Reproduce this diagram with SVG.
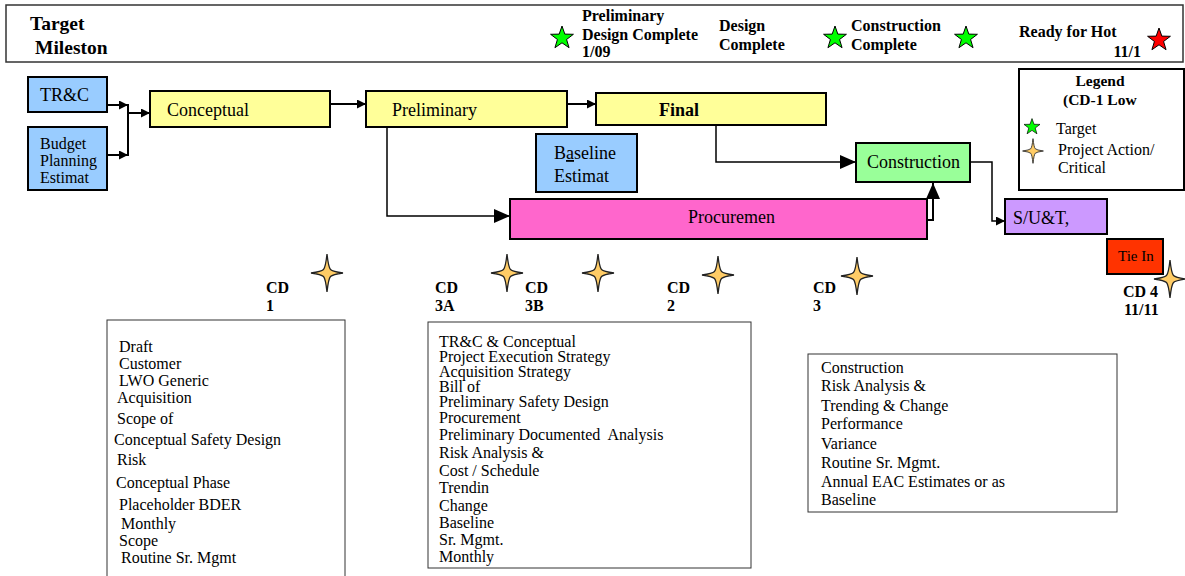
<svg xmlns="http://www.w3.org/2000/svg" width="1185" height="576" viewBox="0 0 1185 576">
<style>
text{font-family:"Liberation Serif","Times New Roman",serif;fill:#000}
.b{font-weight:bold}
.hd{font-size:16px;font-weight:bold}
.nd{stroke:#000;stroke-width:2}
.n18{font-size:18px}
.box{fill:#fff;stroke:#333;stroke-width:1}
.bt{font-size:16px}
.cd{font-size:16px;font-weight:bold}
.con{fill:none;stroke:#000;stroke-width:2}
.con1{fill:none;stroke:#000;stroke-width:1.5}
</style>
<defs>
<path id="star5" d="M0,-12 L2.82,-3.88 L11.41,-3.71 L4.57,1.48 L7.05,9.71 L0,4.8 L-7.05,9.71 L-4.57,1.48 L-11.41,-3.71 L-2.82,-3.88 Z" stroke="#000" stroke-width="1"/>
<path id="star4" d="M0,-19 Q1.5,-5.5 3.5,-3.5 Q5.5,-1.5 16,0 Q5.5,1.5 3.5,3.5 Q1.5,5.5 0,19 Q-1.5,5.5 -3.5,3.5 Q-5.5,1.5 -16,0 Q-5.5,-1.5 -3.5,-3.5 Q-1.5,-5.5 0,-19 Z" fill="#FFCC66" stroke="#222" stroke-width="1.3"/>
<marker id="as" markerUnits="userSpaceOnUse" markerWidth="9" markerHeight="9" refX="9" refY="4.5" orient="auto"><path d="M0,0 L9,4.5 L0,9 Z" fill="#000"/></marker>
<marker id="al" markerUnits="userSpaceOnUse" markerWidth="16" markerHeight="14" refX="16" refY="7" orient="auto"><path d="M0,0 L16,7 L0,14 Z" fill="#000"/></marker>
</defs>
<rect width="1185" height="576" fill="#fff"/>

<g id="header">
<rect x="6" y="5" width="1177" height="57" fill="#fff" stroke="#333" stroke-width="1.5"/>
<text x="30" y="30" font-size="19.5" class="b">Target</text>
<text x="35" y="54" font-size="19.5" class="b">Mileston</text>
<use href="#star5" x="562" y="38" fill="#00FF00"/>
<text x="582" y="21" class="hd">Preliminary</text>
<text x="582" y="40" class="hd">Design Complete</text>
<text x="582" y="57" class="hd">1/09</text>
<text x="719" y="31" class="hd">Design</text>
<text x="719" y="50" class="hd">Complete</text>
<use href="#star5" x="835" y="38" fill="#00FF00"/>
<text x="851" y="31" class="hd">Construction</text>
<text x="851" y="50" class="hd">Complete</text>
<use href="#star5" x="966" y="38" fill="#00FF00"/>
<text x="1019" y="37" class="hd">Ready for Hot</text>
<text x="1141" y="57" class="hd" text-anchor="end">11/1</text>
<use href="#star5" x="1159" y="40" fill="#FF0000"/>
</g>

<g id="connectors">
<path class="con" d="M107,105 H128" marker-end="url(#as)"/>
<path class="con" d="M107,155 H128" marker-end="url(#as)"/>
<path class="con" d="M128,104 V156"/>
<path class="con" d="M128,113 H150" marker-end="url(#as)"/>
<path class="con" d="M330,104 H366" marker-end="url(#as)"/>
<path class="con" d="M567,104 H596" marker-end="url(#as)"/>
<path class="con1" d="M387,127 V216 H510" marker-end="url(#al)"/>
<path class="con1" d="M716,125 V162 H856" marker-end="url(#al)"/>
<path class="con" d="M927,220 H933 V183" marker-end="url(#al)"/>
<path class="con1" d="M970,162 H992 V221 H1005" marker-end="url(#as)"/>
</g>

<g id="n-trc"><rect x="28" y="77" width="79" height="35" fill="#99CCFF" class="nd"/><text x="40" y="101" class="n18">TR&amp;C</text></g>
<g id="n-budget"><rect x="28" y="127" width="79" height="63" fill="#99CCFF" class="nd"/>
<text x="40" y="149" font-size="16">Budget</text><text x="40" y="166" font-size="16">Planning</text><text x="40" y="183" font-size="16">Estimat</text></g>
<g id="n-conceptual"><rect x="150" y="91" width="180" height="36" fill="#FFFF99" class="nd"/><text x="167" y="116" class="n18">Conceptual</text></g>
<g id="n-preliminary"><rect x="366" y="91" width="201" height="36" fill="#FFFF99" class="nd"/><text x="392" y="116" class="n18">Preliminary</text></g>
<g id="n-final"><rect x="596" y="93" width="230" height="32" fill="#FFFF99" class="nd"/><text x="659" y="116" class="n18 b">Final</text></g>
<g id="n-baseline"><rect x="536" y="134" width="101" height="58" fill="#99CCFF" class="nd"/>
<text x="554" y="159" class="n18">B<tspan text-decoration="underline">a</tspan>seline</text><text x="554" y="182" class="n18">Estimat</text></g>
<g id="n-procurement"><rect x="510" y="199" width="417" height="40" fill="#FF66CC" class="nd"/><text x="688" y="223" class="n18">Procuremen</text></g>
<g id="n-construction"><rect x="856" y="143" width="114" height="39" fill="#99FF99" class="nd"/><text x="867" y="168" class="n18">Construction</text></g>
<g id="n-sut"><rect x="1005" y="199" width="102" height="35" fill="#CC99FF" class="nd"/><text x="1013" y="224" class="n18">S/U&amp;T,</text></g>
<g id="n-tiein"><rect x="1107" y="239" width="56" height="35" fill="#FF3300" class="nd"/><text x="1118" y="261" font-size="15">Tie In</text></g>

<g id="legend">
<rect x="1019" y="69" width="165" height="121" fill="#fff" stroke="#000" stroke-width="2"/>
<text x="1100" y="86" font-size="15.5" class="b" text-anchor="middle">Legend</text>
<text x="1063" y="105" font-size="15.5" class="b">(CD-1 Low</text>
<use href="#star5" transform="translate(1032,127) scale(0.7)" fill="#00FF00"/>
<text x="1056" y="134" font-size="16">Target</text>
<use href="#star4" transform="translate(1033,151) scale(0.65)"/>
<text x="1058" y="155" font-size="16">Project Action/</text>
<text x="1058" y="173" font-size="16">Critical</text>
</g>

<g id="milestones">
<use href="#star4" x="327" y="273"/>
<text x="266" y="293" class="cd">CD</text><text x="266" y="311" class="cd">1</text>
<use href="#star4" x="507" y="273"/>
<text x="435" y="293" class="cd">CD</text><text x="435" y="311" class="cd">3A</text>
<use href="#star4" x="598" y="273"/>
<text x="525" y="293" class="cd">CD</text><text x="525" y="311" class="cd">3B</text>
<use href="#star4" x="718" y="275"/>
<text x="667" y="293" class="cd">CD</text><text x="667" y="311" class="cd">2</text>
<use href="#star4" x="857" y="276"/>
<text x="813" y="293" class="cd">CD</text><text x="813" y="311" class="cd">3</text>
<use href="#star4" x="1170" y="279"/>
<text x="1123" y="297" class="cd">CD 4</text><text x="1124" y="315" class="cd">11/11</text>
</g>

<g id="box-cd1">
<rect x="107" y="320" width="238" height="262" class="box"/>
<text class="bt" x="119" y="352">Draft</text>
<text class="bt" x="119" y="369">Customer</text>
<text class="bt" x="119" y="386">LWO Generic</text>
<text class="bt" x="117" y="403">Acquisition</text>
<text class="bt" x="117" y="424">Scope of</text>
<text class="bt" x="114" y="445">Conceptual Safety Design</text>
<text class="bt" x="117" y="465">Risk</text>
<text class="bt" x="116" y="488">Conceptual Phase</text>
<text class="bt" x="119" y="510">Placeholder BDER</text>
<text class="bt" x="121" y="529">Monthly</text>
<text class="bt" x="119" y="546">Scope</text>
<text class="bt" x="121" y="563">Routine Sr. Mgmt</text>
</g>

<g id="box-cd3">
<rect x="428" y="322" width="323" height="246" class="box"/>
<text class="bt" x="439" y="347">TR&amp;C &amp; Conceptual</text>
<text class="bt" x="439" y="362">Project Execution Strategy</text>
<text class="bt" x="439" y="377">Acquisition Strategy</text>
<text class="bt" x="439" y="392">Bill of</text>
<text class="bt" x="439" y="407">Preliminary Safety Design</text>
<text class="bt" x="439" y="423">Procurement</text>
<text class="bt" x="439" y="440" xml:space="preserve">Preliminary Documented  Analysis</text>
<text class="bt" x="439" y="458">Risk Analysis &amp;</text>
<text class="bt" x="439" y="476">Cost / Schedule</text>
<text class="bt" x="439" y="493">Trendin</text>
<text class="bt" x="439" y="511">Change</text>
<text class="bt" x="439" y="528">Baseline</text>
<text class="bt" x="439" y="545">Sr. Mgmt.</text>
<text class="bt" x="439" y="562">Monthly</text>
</g>

<g id="box-construction">
<rect x="808" y="354" width="309" height="158" class="box"/>
<text class="bt" x="821" y="373">Construction</text>
<text class="bt" x="821" y="391">Risk Analysis &amp;</text>
<text class="bt" x="821" y="411">Trending &amp; Change</text>
<text class="bt" x="821" y="429">Performance</text>
<text class="bt" x="821" y="449">Variance</text>
<text class="bt" x="821" y="468">Routine Sr. Mgmt.</text>
<text class="bt" x="821" y="487">Annual EAC Estimates or as</text>
<text class="bt" x="821" y="505">Baseline</text>
</g>
</svg>
